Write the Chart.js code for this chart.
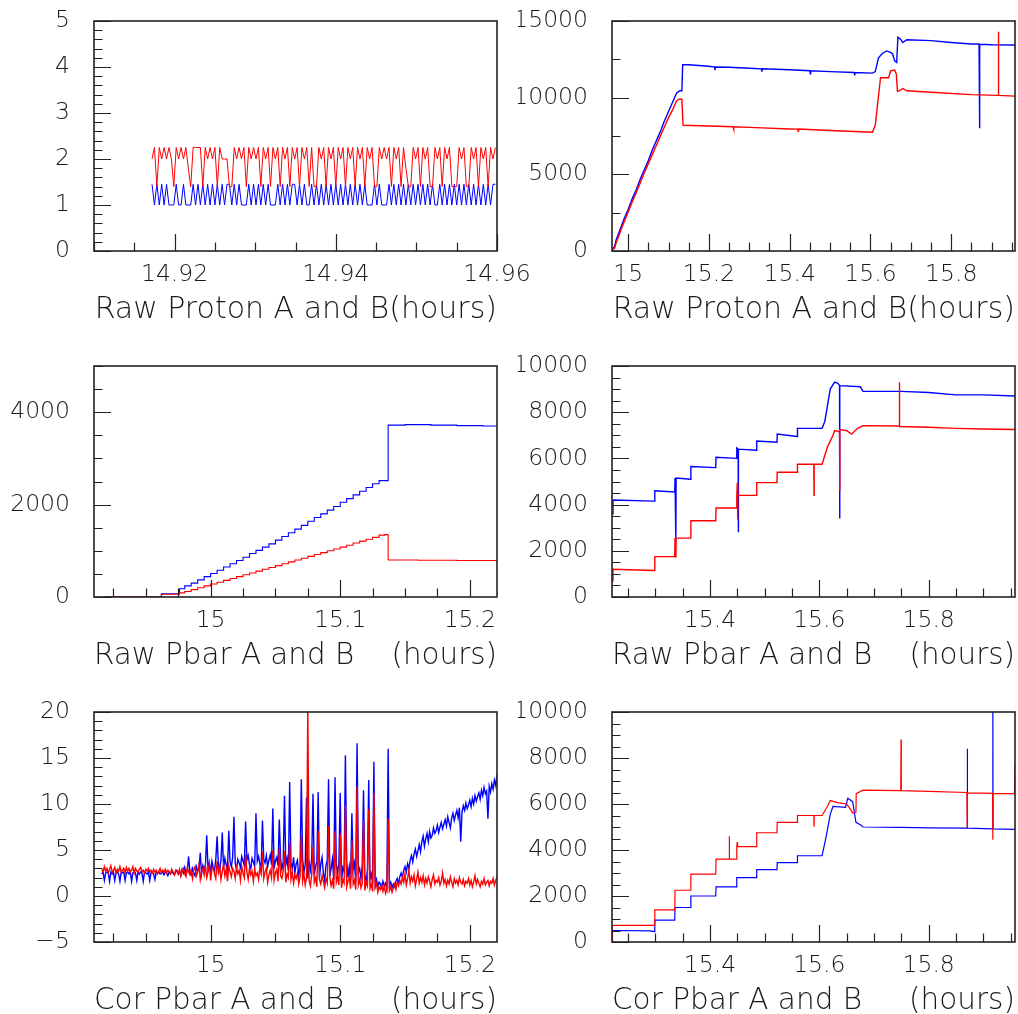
<!DOCTYPE html>
<html>
<head>
<meta charset="utf-8">
<title>Proton / Pbar intensities</title>
<script src="https://cdn.jsdelivr.net/npm/chart.js@4.4.0/dist/chart.umd.min.js"></script>
<style>
  html, body { margin: 0; padding: 0; background: #fff; }
  #wrap { position: relative; width: 1018px; height: 1014px; }
  #wrap canvas { position: absolute; left: 0; top: 0; }
</style>
</head>
<body>
<div id="wrap">
  <canvas id="c1" width="1018" height="1014"></canvas>
  <canvas id="c2" width="1018" height="1014"></canvas>
  <canvas id="c3" width="1018" height="1014"></canvas>
  <canvas id="c4" width="1018" height="1014"></canvas>
  <canvas id="c5" width="1018" height="1014"></canvas>
  <canvas id="c6" width="1018" height="1014"></canvas>
</div>
<script>
// ---- panel 1: raw proton, short window (sampled signal) ----
const p1Start = 14.9172;
const p1Period = 0.0003;
const p1Blue = [
  1.45,1.0,1.45,1.0,1.45,1.0,1.45,1.0,1.0,1.0,
  1.45,1.0,1.0,1.45,1.0,1.0,1.0,1.45,1.0,1.45,
  1.0,1.45,1.0,1.45,1.0,1.45,1.0,1.45,1.0,1.45,
  1.0,1.45,1.45,1.0,1.45,1.0,1.45,1.0,1.0,1.0,
  1.45,1.0,1.45,1.0,1.45,1.0,1.45,1.0,1.45,1.0,
  1.0,1.0,1.45,1.0,1.45,1.0,1.45,1.0,1.45,1.45,
  1.0,1.45,1.0,1.45,1.0,1.0,1.45,1.0,1.45,1.0,
  1.45,1.0,1.45,1.0,1.45,1.0,1.45,1.0,1.45,1.0,
  1.45,1.0,1.45,1.0,1.45,1.0,1.45,1.0,1.45,1.0,
  1.0,1.0,1.45,1.0,1.45,1.0,1.0,1.0,1.45,1.0,
  1.45,1.0,1.45,1.0,1.45,1.0,1.45,1.0,1.45,1.0,
  1.45,1.0,1.45,1.0,1.45,1.0,1.45,1.0,1.0,1.45,
  1.0,1.45,1.0,1.45,1.0,1.45,1.0,1.45,1.0,1.45,
  1.0,1.45,1.0,1.45,1.0,1.45,1.0,1.45,1.0,1.45,
  1.0,1.45,1.45
];
const p1Red = [
  2.0,2.25,1.4,2.25,2.0,2.25,2.0,2.25,2.0,1.4,
  2.25,2.0,2.25,2.0,2.25,1.8,1.4,2.25,2.25,2.25,
  2.25,1.4,2.25,2.0,2.25,2.0,2.25,1.4,2.25,2.0,
  2.0,2.0,1.4,1.4,2.25,2.0,2.25,2.0,2.25,1.4,
  2.25,2.0,2.25,2.0,2.25,1.4,2.25,2.0,2.25,1.4,
  2.25,2.0,2.25,1.4,2.25,2.0,2.25,1.4,2.25,2.0,
  2.25,1.4,2.25,2.0,2.25,1.4,2.25,1.4,1.4,2.25,
  2.0,2.25,1.4,2.25,2.0,2.25,1.4,2.25,2.0,2.25,
  1.4,2.25,2.0,2.25,1.4,2.25,2.0,2.25,1.4,2.25,
  2.0,2.25,1.4,1.4,2.25,2.0,2.25,2.0,2.25,1.4,
  2.25,2.0,2.25,1.4,2.25,1.8,1.4,1.4,2.25,2.0,
  2.25,1.4,2.25,2.0,2.25,1.4,1.4,2.25,2.0,2.25,
  1.4,2.25,2.0,2.25,1.4,1.4,1.4,2.25,2.0,2.25,
  1.4,1.4,2.25,2.0,2.25,1.4,2.25,2.0,2.25,1.4,
  2.25,2.0,2.25
];
const p1XLabels = [14.92, 14.94, 14.96];
const p1YLabels = [0, 1, 2, 3, 4, 5];

// ---- panel 2: raw proton, full window [hours, counts] ----
const p2Blue = [
  [14.960,150],[14.966,250],[14.970,700],[14.980,1400],[14.990,2100],[15.000,2700],
  [15.010,3400],[15.020,4000],[15.030,4700],[15.040,5300],[15.050,5900],[15.060,6600],
  [15.070,7200],[15.080,7800],[15.090,8500],[15.100,9100],[15.110,9700],[15.120,10300],
  [15.128,10450],[15.133,10450],[15.135,12150],[15.150,12150],[15.200,12050],[15.214,12000],
  [15.215,11800],[15.216,12000],[15.250,11980],[15.300,11920],[15.330,11880],[15.331,11700],
  [15.332,11880],[15.400,11820],[15.450,11760],[15.451,11550],[15.452,11760],[15.500,11700],
  [15.560,11640],[15.561,11450],[15.562,11640],[15.605,11600],[15.612,11700],[15.620,12600],
  [15.630,12900],[15.640,13050],[15.650,12950],[15.655,12850],[15.660,12400],[15.665,12300],
  [15.668,13950],[15.675,13800],[15.680,13600],[15.690,13780],[15.750,13720],[15.800,13600],
  [15.850,13500],[15.869,13500],[15.870,8000],[15.871,13480],[15.900,13450],[15.958,13430]
];
const p2Red = [
  [14.960,100],[14.966,150],[14.970,500],[14.980,1200],[14.990,1900],[15.000,2550],
  [15.010,3200],[15.020,3800],[15.030,4450],[15.040,5100],[15.050,5700],[15.060,6300],
  [15.070,6900],[15.080,7500],[15.090,8100],[15.100,8700],[15.110,9200],[15.120,9800],
  [15.127,9900],[15.133,9900],[15.136,8200],[15.200,8150],[15.260,8100],[15.261,7950],
  [15.262,8100],[15.300,8060],[15.400,7960],[15.420,7950],[15.421,7800],[15.422,7950],
  [15.500,7860],[15.605,7750],[15.612,8200],[15.625,11300],[15.645,11300],[15.650,11750],
  [15.660,11800],[15.664,11550],[15.667,10400],[15.675,10500],[15.680,10600],[15.690,10450],
  [15.750,10350],[15.850,10200],[15.9165,10150],[15.917,14300],[15.9175,10150],[15.958,10100]
];
const p2XLabels = [15, 15.2, 15.4, 15.6, 15.8];
const p2YLabels = [0, 5000, 10000, 15000];

// ---- panel 3: raw pbar, early window (held samples) ----
const p3Blue = [
  [14.918,0],[14.9615,0],[14.962,70],[14.975,70],[14.976,180],[14.980,240],[14.985,300],
  [14.990,370],[14.995,440],[15.000,510],[15.005,580],[15.010,650],[15.015,720],[15.020,790],
  [15.025,860],[15.030,940],[15.035,1010],[15.040,1080],[15.045,1150],[15.050,1230],
  [15.055,1310],[15.060,1390],[15.065,1470],[15.070,1550],[15.075,1640],[15.080,1720],
  [15.085,1800],[15.090,1880],[15.095,1960],[15.100,2050],[15.105,2130],[15.110,2210],
  [15.115,2290],[15.120,2370],[15.125,2450],[15.130,2520],[15.1345,2520],[15.137,3720],
  [15.150,3730],[15.170,3720],[15.190,3710],[15.210,3700],[15.221,3695]
];
const p3Red = [
  [14.918,0],[14.9615,0],[14.962,60],[14.975,60],[14.976,90],[14.980,120],[14.985,160],
  [14.990,200],[14.995,240],[15.000,280],[15.005,320],[15.010,360],[15.015,400],[15.020,440],
  [15.025,480],[15.030,520],[15.035,560],[15.040,600],[15.045,640],[15.050,680],
  [15.055,720],[15.060,760],[15.065,800],[15.070,840],[15.075,880],[15.080,920],
  [15.085,960],[15.090,1000],[15.095,1040],[15.100,1080],[15.105,1120],[15.110,1170],
  [15.115,1210],[15.120,1250],[15.125,1290],[15.130,1340],[15.1345,1350],[15.137,800],
  [15.160,795],[15.190,790],[15.221,790]
];
const p3XLabels = [15, 15.1, 15.2];
const p3YLabels = [0, 2000, 4000];

// ---- panel 4: raw pbar, late window ----
const p4Blue = [
  [15.2207,3600],[15.2225,4200],[15.2984,4150],[15.2990,4600],[15.3355,4550],[15.3360,5150],
  [15.3375,2450],[15.3380,5150],[15.3645,5100],[15.3650,5650],[15.4105,5600],[15.4110,6050],
  [15.4485,6000],[15.4490,6450],[15.4515,6400],[15.4518,2800],[15.4522,6400],[15.4850,6350],
  [15.4855,6750],[15.5225,6700],[15.5230,7050],[15.5595,6950],[15.5600,7300],[15.6050,7300],
  [15.6100,7600],[15.6150,8300],[15.6200,9000],[15.6280,9300],[15.6340,9250],[15.6370,9150],
  [15.6372,3400],[15.6376,9150],[15.6750,9100],[15.6800,8900],[15.7500,8900],[15.8000,8850],
  [15.8500,8750],[15.9000,8750],[15.9580,8700]
];
const p4Red = [
  [15.2207,700],[15.2225,1200],[15.2984,1150],[15.2990,1750],[15.3355,1750],[15.3360,2550],
  [15.3375,1700],[15.3380,2550],[15.3645,2550],[15.3650,3300],[15.4105,3300],[15.4110,3850],
  [15.4485,3850],[15.4490,4400],[15.4500,4950],[15.4505,3350],[15.4510,4400],[15.4850,4400],
  [15.4855,4950],[15.5225,4950],[15.5230,5400],[15.5595,5400],[15.5600,5750],[15.5900,5750],
  [15.5903,4400],[15.5906,5750],[15.6050,5750],[15.6150,6500],[15.6250,7000],[15.6280,7200],
  [15.6370,7150],[15.6372,4600],[15.6376,7250],[15.6500,7200],[15.6590,7050],[15.6700,7300],
  [15.6800,7420],[15.7460,7400],[15.7465,9300],[15.7470,7380],[15.8000,7350],[15.8500,7300],
  [15.9000,7270],[15.9580,7250]
];
const p4XLabels = [15.4, 15.6, 15.8];
const p4YLabels = [0, 2000, 4000, 6000, 8000, 10000];

// ---- panel 5: corrected pbar, early window (sampled signal) ----
const p5Start = 14.916;
const p5Period = 0.001;
const p5Blue = [
  2.4,2.6,1.7,2.5,2.6,2.5,1.6,2.6,2.4,2.6,
  1.7,2.5,2.6,2.4,1.6,2.6,2.5,2.6,1.7,2.5,
  2.6,2.4,2.6,1.6,2.5,2.6,2.5,1.7,2.6,2.4,
  2.6,2.5,1.6,2.6,2.5,2.4,2.6,1.7,2.5,2.6,
  2.4,1.8,2.6,2.5,2.6,2.4,2.5,2.6,2.3,2.6,
  2.5,2.2,2.6,2.4,2.7,2.5,2.3,2.6,2.8,2.4,
  2.7,2.2,2.9,2.5,3.1,2.4,2.8,4.3,2.6,2.3,
  3.0,2.5,2.2,3.2,2.7,2.9,4.7,2.4,3.3,2.8,
  3.4,6.6,2.9,3.6,2.5,3.8,3.1,2.7,4.0,6.5,
  3.3,2.8,3.9,6.9,3.0,4.1,3.4,2.9,7.1,3.7,
  3.2,4.2,8.6,3.5,2.9,4.0,3.6,3.1,4.3,3.8,
  3.3,8.1,3.9,4.4,3.4,3.0,4.1,3.7,3.2,9.0,
  3.8,4.3,3.5,3.1,8.2,4.0,3.6,4.4,3.2,3.9,
  4.5,3.4,9.5,3.0,3.8,4.2,3.3,8.3,4.0,2.9,
  3.7,10.9,3.4,4.1,2.7,12.4,3.6,3.0,4.2,2.5,
  3.5,3.9,2.2,3.1,12.7,4.0,2.6,3.4,10.7,1.9,
  3.6,2.8,4.1,11.1,2.3,3.2,3.8,11.3,2.0,3.5,
  4.2,2.4,1.7,3.3,3.9,12.7,2.2,3.0,4.0,1.8,
  12.9,3.4,2.5,3.7,11.2,1.6,3.1,2.7,15.3,3.8,
  2.0,3.2,1.7,9.0,2.9,3.6,1.5,16.6,2.6,3.0,
  1.9,3.3,11.5,2.2,1.6,2.8,12.6,1.8,2.4,1.4,
  14.6,1.2,1.8,1.0,1.5,1.3,0.9,1.6,1.1,1.4,
  0.8,16.0,1.2,1.5,0.9,1.3,1.0,1.6,1.9,1.4,
  2.1,2.5,2.0,2.8,3.2,2.6,3.5,3.0,3.9,4.4,
  3.7,4.6,5.1,4.3,4.9,5.6,4.8,5.9,6.5,5.4,
  6.2,6.8,5.9,7.0,6.3,6.6,7.4,6.8,7.1,7.7,
  6.9,7.5,8.0,7.3,7.8,8.3,7.6,8.6,8.0,7.4,
  8.5,9.0,8.2,8.8,9.3,8.5,9.6,5.9,9.1,9.8,
  9.3,10.1,9.5,9.9,10.4,9.7,10.6,10.0,10.9,10.3,
  10.8,11.2,10.5,11.5,10.9,11.8,11.1,11.4,8.4,11.9,
  11.3,12.2,11.6,12.6,12.0,13.2
];
const p5Red = [
  2.9,2.6,3.2,2.7,3.0,2.5,2.9,3.3,2.6,2.8,
  3.1,2.5,2.9,2.7,3.2,2.6,2.8,3.0,2.5,3.1,
  2.7,3.0,2.6,2.8,3.2,2.5,3.0,2.7,2.6,2.9,
  3.1,2.6,2.8,2.5,2.9,2.7,3.0,2.6,2.8,2.5,
  2.9,2.6,2.8,2.4,2.7,3.0,2.5,2.8,2.6,2.9,
  2.5,2.8,2.6,2.4,2.9,2.6,2.3,2.8,2.7,2.4,
  2.9,2.2,2.7,3.0,2.4,2.1,3.1,2.6,2.3,2.8,
  1.9,2.9,3.2,2.2,2.6,3.4,1.8,2.7,3.0,2.3,
  3.3,2.0,2.6,3.5,1.7,2.9,3.1,2.4,1.9,3.8,
  2.5,3.2,1.8,2.7,3.4,2.2,2.9,1.6,3.3,2.6,
  2.1,3.0,2.7,1.9,3.1,2.4,2.8,1.7,3.2,2.5,
  2.0,4.5,2.6,1.8,3.0,2.3,2.7,1.6,2.9,2.2,
  2.5,1.8,3.1,2.4,4.8,1.9,2.6,3.0,1.5,2.3,
  2.8,2.0,5.0,1.7,2.5,2.9,1.6,5.2,2.2,1.9,
  2.7,4.9,1.5,2.4,2.0,5.8,1.8,2.6,1.4,2.3,
  1.9,2.5,1.3,2.1,6.6,1.6,2.4,1.2,2.0,20.5,
  1.7,1.1,2.3,5.4,1.5,2.0,1.0,7.1,1.8,1.3,
  2.2,1.6,0.9,1.9,1.4,7.6,2.0,1.1,1.7,0.8,
  7.0,1.5,2.1,1.2,6.8,0.9,1.8,1.4,9.9,1.0,
  1.6,2.0,0.8,6.0,1.3,1.7,0.7,11.9,1.2,1.8,
  0.9,1.4,8.3,0.6,1.5,1.1,9.4,0.8,1.3,0.5,
  11.2,0.9,1.4,0.4,1.0,0.7,1.2,0.5,1.1,0.3,
  0.8,8.4,0.6,1.0,0.4,0.9,1.3,0.7,1.5,1.1,
  1.7,1.3,2.0,1.5,2.4,1.2,1.9,2.8,1.4,2.1,
  1.6,2.3,1.1,1.8,2.6,1.4,2.0,1.5,2.2,1.2,
  1.9,1.4,2.1,1.6,1.0,1.8,2.3,1.3,1.7,1.5,
  2.0,1.2,1.6,2.5,1.4,1.8,1.1,1.7,1.3,2.1,
  1.5,1.0,1.9,1.4,1.7,1.2,2.0,1.5,1.3,1.8,
  1.1,1.6,1.4,1.9,1.2,1.7,1.0,1.5,2.2,1.3,
  1.8,1.4,1.0,1.6,1.3,1.9,1.2,1.5,1.7,1.1,
  1.6,1.4,1.9,1.2,1.7,2.1
];
const p5XLabels = [15, 15.1, 15.2];
const p5YLabels = [-5, 0, 5, 10, 15, 20];

// ---- panel 6: corrected pbar, late window ----
const p6Blue = [
  [15.2207,0],[15.2215,500],[15.2900,480],[15.2984,450],[15.2990,950],[15.3355,950],
  [15.3360,1500],[15.3645,1500],[15.3650,2000],[15.4105,2000],[15.4110,2400],[15.4485,2400],
  [15.4490,2800],[15.4850,2800],[15.4855,3150],[15.5225,3150],[15.5230,3450],[15.5595,3450],
  [15.5600,3750],[15.6050,3750],[15.6100,4300],[15.6150,4900],[15.6200,5550],[15.6250,5900],
  [15.6480,5850],[15.6520,6250],[15.6610,6100],[15.6670,5200],[15.6750,5100],[15.6800,5000],
  [15.7500,4980],[15.8000,4960],[15.8705,4950],[15.8708,8400],[15.8711,4950],[15.9172,4920],
  [15.9175,10500],[15.9178,4920],[15.9580,4900]
];
const p6Red = [
  [15.2207,0],[15.2215,720],[15.2984,720],[15.2990,1400],[15.3355,1400],[15.3360,2250],
  [15.3645,2250],[15.3650,2950],[15.4105,2950],[15.4110,3600],[15.4350,3600],[15.4353,4600],
  [15.4356,3600],[15.4485,3600],[15.4490,4150],[15.4500,4350],[15.4505,4150],[15.4850,4150],
  [15.4855,4750],[15.5225,4750],[15.5230,5200],[15.5595,5200],[15.5600,5500],[15.5900,5500],
  [15.5903,5050],[15.5906,5500],[15.6050,5500],[15.6150,5900],[15.6200,6150],[15.6350,6050],
  [15.6500,6000],[15.6560,5800],[15.6614,5600],[15.6670,5650],[15.6675,6450],[15.6800,6600],
  [15.7490,6580],[15.7495,8800],[15.7500,6580],[15.8000,6550],[15.8700,6500],[15.8705,5000],
  [15.8710,6480],[15.9170,6460],[15.9173,4450],[15.9176,6460],[15.9570,6450],[15.9580,7750]
];
const p6XLabels = [15.4, 15.6, 15.8];
const p6YLabels = [0, 2000, 4000, 6000, 8000, 10000];

const FONT = 'DejaVu Sans';
const INK = '#1a1a1a';

const fromPairs = pairs => pairs.map(([x, y]) => ({x, y}));
const fromSamples = (t0, dt, vals) => vals.map((y, i) => ({x: t0 + i * dt, y}));

// ROOT style box with inside ticks (major / minor) on left and bottom
const rootFrame = {
  id: 'rootFrame',
  afterDatasetsDraw(chart, args, opts) {
    const {ctx, chartArea: a, scales: {x, y}} = chart;
    const steps = (min, max, step) => {
      const out = [];
      for (let k = Math.ceil(min / step - 1e-6); k * step <= max + step * 1e-6; k++) out.push(k * step);
      return out;
    };
    const isMajor = (v, major) => Math.abs(v / major - Math.round(v / major)) < 1e-4;
    ctx.save();
    ctx.strokeStyle = '#222';
    ctx.lineWidth = 1.2;
    ctx.beginPath();
    steps(x.min, x.max, opts.xMinor).forEach(v => {
      const px = Math.round(x.getPixelForValue(v)) + 0.5;
      const len = isMajor(v, opts.xMajor) ? 17 : 8.5;
      ctx.moveTo(px, a.bottom);
      ctx.lineTo(px, a.bottom - len);
    });
    steps(y.min, y.max, opts.yMinor).forEach(v => {
      const py = Math.round(y.getPixelForValue(v)) + 0.5;
      const len = isMajor(v, opts.yMajor) ? 17 : 8.5;
      ctx.moveTo(a.left, py);
      ctx.lineTo(a.left + len, py);
    });
    ctx.stroke();
    ctx.lineWidth = 1.6;
    ctx.strokeRect(a.left, a.top, a.right - a.left, a.bottom - a.top);
    ctx.restore();
  }
};

function fmt(v) {
  const s = String(+v.toFixed(4));
  return v < 0 ? '\u2212' + s.slice(1) : s;
}

function panel(id, box, xRange, yRange, xLabels, yLabels, title, marks, red, blue, look) {
  look = look || {};
  const line = (data, color) => ({
    data, borderColor: color, borderWidth: look.width || 1.2, pointRadius: 0,
    tension: 0, stepped: look.stepped || false, fill: false
  });
  new Chart(document.getElementById(id), {
    type: 'line',
    data: { datasets: [line(red, '#ff0000'), line(blue, '#0000ff')] },
    options: {
      responsive: false,
      animation: false,
      events: [],
      layout: { padding: {
        left: box.left - 94, right: 1018 - box.right,
        top: box.top, bottom: 1014 - box.bottom - 72
      } },
      plugins: { legend: { display: false }, tooltip: { enabled: false }, rootFrame: marks },
      scales: {
        x: {
          type: 'linear', min: xRange[0], max: xRange[1],
          grid: { display: false, drawTicks: false }, border: { display: false },
          afterBuildTicks: s => { s.ticks = xLabels.map(value => ({value})); },
          afterFit: s => { s.height = 72; s.paddingLeft = 0; s.paddingRight = 0; },
          ticks: { autoSkip: false, maxRotation: 0, padding: 10, color: INK,
                   font: { family: FONT, size: 23.5, weight: 200 }, callback: fmt },
          title: { display: true, text: title, align: 'end', color: INK,
                   font: { family: FONT, size: 30, weight: 200, lineHeight: 1 },
                   padding: { top: 0, bottom: -2.5 } }
        },
        y: {
          type: 'linear', min: yRange[0], max: yRange[1],
          grid: { display: false, drawTicks: false }, border: { display: false },
          afterBuildTicks: s => { s.ticks = yLabels.map(value => ({value})); },
          afterFit: s => { s.width = 94; s.paddingTop = 0; s.paddingBottom = 0; },
          ticks: { autoSkip: false, padding: 24, color: INK,
                   font: { family: FONT, size: 23.5, weight: 200 }, callback: fmt }
        }
      }
    },
    plugins: [rootFrame]
  });
}

const leftCol = { left: 94, right: 497 };
const rightCol = { left: 612, right: 1015 };
const rows = [{ top: 21, bottom: 251 }, { top: 366, bottom: 597 }, { top: 712, bottom: 942 }];

panel('c1', {...leftCol, ...rows[0]}, [14.91, 14.96], [0, 5], p1XLabels, p1YLabels,
  'Raw Proton A and B(hours)', { xMajor: 0.02, xMinor: 0.005, yMajor: 1, yMinor: 0.2 },
  fromSamples(p1Start, p1Period, p1Red), fromSamples(p1Start, p1Period, p1Blue), { width: 1 });

panel('c2', {...rightCol, ...rows[0]}, [14.96, 15.958], [0, 15000], p2XLabels, p2YLabels,
  'Raw Proton A and B(hours)', { xMajor: 0.2, xMinor: 0.05, yMajor: 5000, yMinor: 2500 },
  fromPairs(p2Red), fromPairs(p2Blue), { width: 1.4 });

panel('c3', {...leftCol, ...rows[1]}, [14.91, 15.221], [0, 5000], p3XLabels, p3YLabels,
  'Raw Pbar A and B    (hours)', { xMajor: 0.1, xMinor: 0.025, yMajor: 2000, yMinor: 500 },
  fromPairs(p3Red), fromPairs(p3Blue), { stepped: true, width: 1.1 });

panel('c4', {...rightCol, ...rows[1]}, [15.2207, 15.958], [0, 10000], p4XLabels, p4YLabels,
  'Raw Pbar A and B    (hours)', { xMajor: 0.2, xMinor: 0.05, yMajor: 2000, yMinor: 500 },
  fromPairs(p4Red), fromPairs(p4Blue), { width: 1.4 });

panel('c5', {...leftCol, ...rows[2]}, [14.91, 15.221], [-5, 20], p5XLabels, p5YLabels,
  'Cor Pbar A and B     (hours)', { xMajor: 0.1, xMinor: 0.025, yMajor: 5, yMinor: 1 },
  fromSamples(p5Start, p5Period, p5Red), fromSamples(p5Start, p5Period, p5Blue), { width: 1.4 });

panel('c6', {...rightCol, ...rows[2]}, [15.2207, 15.958], [0, 10000], p6XLabels, p6YLabels,
  'Cor Pbar A and B     (hours)', { xMajor: 0.2, xMinor: 0.05, yMajor: 2000, yMinor: 500 },
  fromPairs(p6Red), fromPairs(p6Blue), { width: 1.2 });
</script>
</body>
</html>
